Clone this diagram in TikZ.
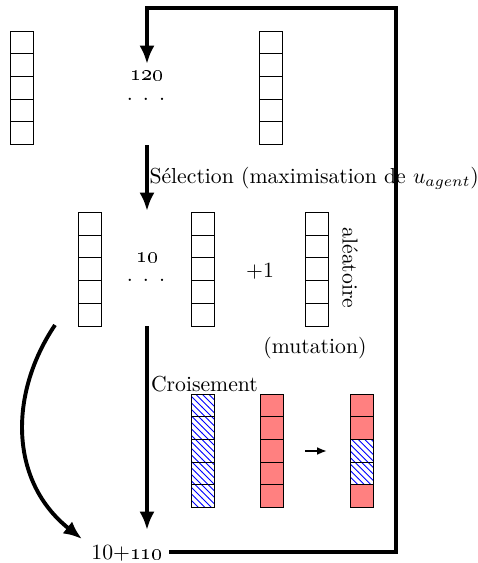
\documentclass[tikz,border=0pt]{standalone}
\usetikzlibrary{arrows.meta,patterns}
\tikzset{
  cell/.style={draw=black, line width=0.45pt},
  plain/.style={cell},
  redc/.style={cell, fill=red!50},
  hatch/.style={cell, pattern=north west lines, pattern color=blue},
  bigarrow/.style={line width=1.8pt, -{Latex[length=8.5pt,width=7pt]}},
  smallarrow/.style={line width=1pt, -{Latex[length=4.5pt,width=3.6pt]}},
  lbl/.style={inner sep=0pt, outer sep=0pt},
}
\newcommand\chromo[3]{%
  \foreach \s [count=\i from 0] in {#3} {%
    \draw[\s] (#1, #2+\i*22.7) rectangle ++(23,22.7);
  }%
}
\begin{document}
\begin{tikzpicture}[x=0.4608pt, y=-0.4608pt]
\useasboundingbox (0,0) rectangle (477,563);

% top row
\chromo{10}{31}{plain,plain,plain,plain,plain}
\chromo{259.5}{31}{plain,plain,plain,plain,plain}
\node[lbl] (t120) at (147,76) {\oldstylenums{120}};
\node[lbl] (tdots) at (146,99) {.\hspace{4.6pt}.\hspace{4.6pt}.};

% middle row
\chromo{78.5}{212.5}{plain,plain,plain,plain,plain}
\chromo{191.5}{212.5}{plain,plain,plain,plain,plain}
\chromo{305.5}{212.5}{plain,plain,plain,plain,plain}
\node[lbl] (m10) at (147,258) {\oldstylenums{10}};
\node[lbl] (mdots) at (146,280) {.\hspace{4.6pt}.\hspace{4.6pt}.};
\node[lbl] (plus1) at (260,271) {+1};
\node[lbl, rotate=-90] (alea) at (350,268) {aléatoire};
\node[lbl] (mut) at (315,348) {(mutation)};

% crossover
\chromo{191.5}{394}{hatch,hatch,hatch,hatch,hatch}
\chromo{260}{394}{redc,redc,redc,redc,redc}
\chromo{350.5}{394}{redc,redc,hatch,hatch,redc}
\coordinate (sa1) at (305,451);
\coordinate (sa2) at (327,451);
\draw[smallarrow] (sa1) -- (sa2);

% labels
\node[lbl, anchor=base west] (sel) at (149.5,183) {Sélection (maximisation de $u_{agent}$)};
\node[lbl, anchor=base west] (crois) at (151,391) {Croisement};
\node[lbl] (sum) at (127,553) {10+\oldstylenums{110}};

% arrows
\coordinate (a1s) at (147,145);
\coordinate (a1e) at (147,211);
\draw[bigarrow] (a1s) -- (a1e);
\coordinate (a2s) at (147,326);
\coordinate (a2e) at (147,530);
\draw[bigarrow] (a2s) -- (a2e);
\coordinate (cs) at (55,325);
\coordinate (ce) at (82,539);
\draw[bigarrow] (cs) .. controls (8,395) and (10,482) .. (ce);

% feedback frame
\coordinate (f0) at (169,552);
\coordinate (f1) at (396,552);
\coordinate (f2) at (396,8);
\coordinate (f3) at (147,8);
\coordinate (f4) at (147,64);
\draw[bigarrow] (f0) -- (f1) -- (f2) -- (f3) -- (f4);
\end{tikzpicture}
\end{document}
